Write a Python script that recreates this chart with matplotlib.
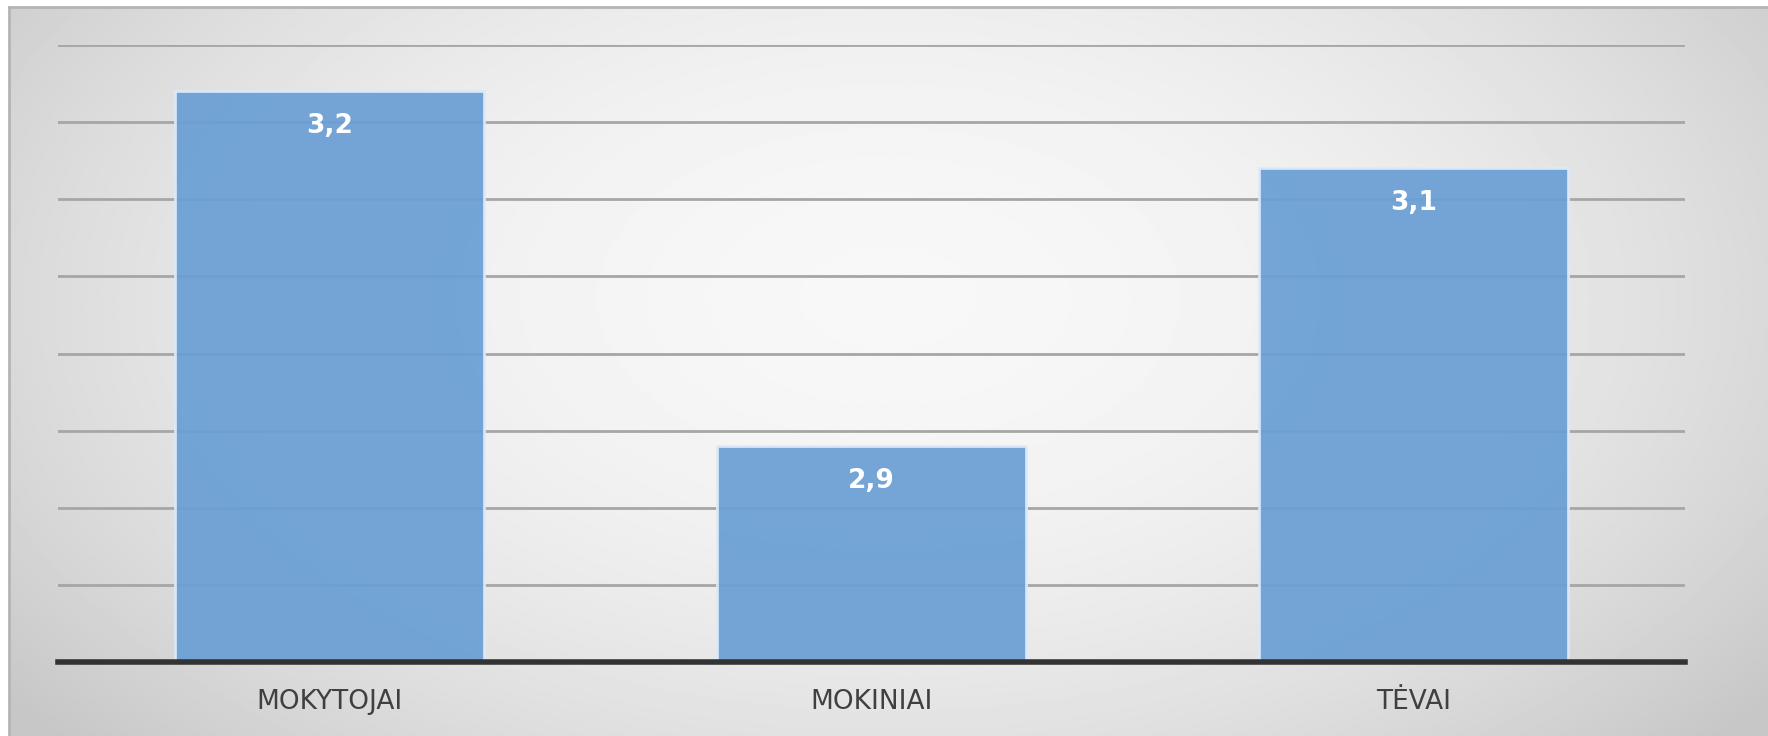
import numpy as np
import matplotlib
matplotlib.use('Agg')
import matplotlib.pyplot as plt

categories = ['MOKYTOJAI', 'MOKINIAI', 'TĖVAI']
values = [3.17, 2.94, 3.12]
labels = [f"{v:.1f}".replace('.', ',') for v in values]

fig = plt.figure(figsize=(17.68, 7.36), dpi=100)
fig.patch.set_facecolor('white')

# radial gray background inside the chart frame
bg = fig.add_axes([9/1768, 0, 1 - 9/1768, 1 - 7/736])
yy, xx = np.mgrid[0:1:400j, 0:1:900j]
r2 = ((xx - 0.5) / 0.6)**2 + ((yy - 0.4) / 0.85)**2
shade = np.clip(0.97 - 0.17 * r2, 0.78, 0.97)
bg.imshow(shade, cmap='gray', vmin=0, vmax=1, aspect='auto',
          extent=[0, 1, 0, 1], origin='upper')
bg.set_xlim(0, 1)
bg.set_ylim(0, 1)
bg.set_xticks([])
bg.set_yticks([])
for side in ['right', 'bottom']:
	bg.spines[side].set_visible(False)
for side in ['left', 'top']:
	bg.spines[side].set_color('#b4b4b4')
	bg.spines[side].set_linewidth(2)

ax = fig.add_axes([58/1768, 74/736, (1685-58)/1768, (662-45)/736])
ax.patch.set_alpha(0)
x = np.arange(len(categories))
ax.set_ylim(2.8, 3.2)
ax.set_xlim(-0.5, len(categories) - 0.5)
ax.set_yticks(np.arange(2.8, 3.2001, 0.05))
ax.yaxis.grid(True, color='#a6a6a6', linewidth=2)
ax.set_axisbelow(True)
ax.tick_params(axis='y', left=False, labelleft=False)
ax.tick_params(axis='x', bottom=False, pad=16)
for side in ['left', 'right', 'top']:
	ax.spines[side].set_visible(False)
ax.spines['bottom'].set_color('#333333')
ax.spines['bottom'].set_linewidth(4)
ax.spines['bottom'].set_zorder(5)

bars = ax.bar(x, [v - 2.8 for v in values], bottom=2.8, width=0.57,
              color='#6a9fd4', alpha=0.93, edgecolor='#dcebfa', linewidth=2)
ax.set_xticks(x)
ax.set_xticklabels(categories, fontsize=19, color='#404040')

for xi, v, lab in zip(x, values, labels):
	ax.annotate(lab, (xi, v), xytext=(0, -35), textcoords='offset pixels',
	            ha='center', va='center', color='white', fontsize=19,
	            fontweight='semibold')

fig.savefig('out.png', dpi=100)
